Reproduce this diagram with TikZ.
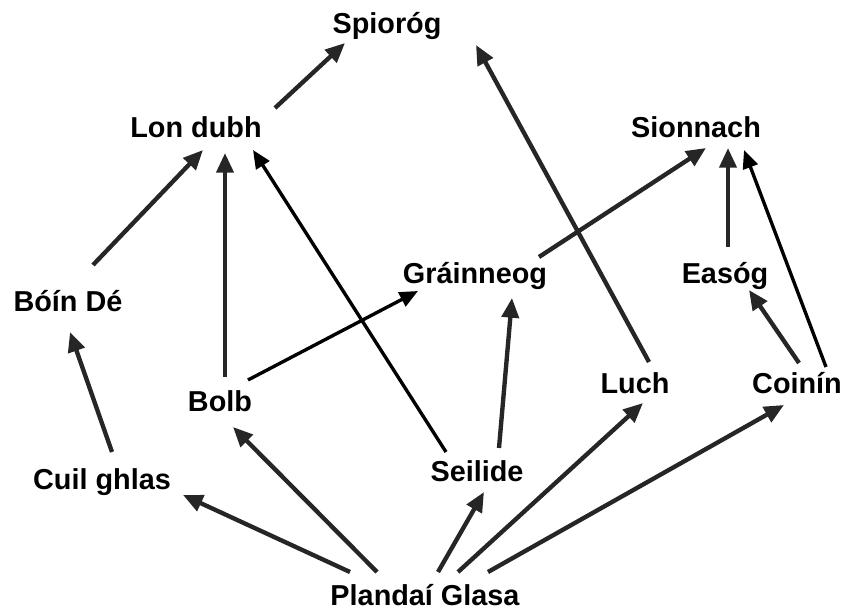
\documentclass[tikz,border=0pt]{standalone}
\usepackage{fontspec}
\setmainfont{Liberation Sans}
\usetikzlibrary{arrows.meta}
\begin{document}
\begin{tikzpicture}[
  lbl/.style={font=\bfseries\fontsize{20.5}{24}\selectfont,anchor=base,inner sep=0pt},
  feed/.style={line width=3.1pt,draw=black!85,-{Triangle[length=14pt,width=12pt]}},
  feedk/.style={line width=2.4pt,draw=black,-{Triangle[length=13pt,width=11pt]}}]
  \useasboundingbox (0,0) rectangle (21.05,15.25);
  \node[lbl] (spi) at (9.675,14.4) {Spioróg};
  \node[lbl] (lon) at (4.9,11.8) {Lon dubh};
  \node[lbl] (sio) at (17.4,11.8) {Sionnach};
  \node[lbl] (gra) at (11.875,8.15) {Gráinneog};
  \node[lbl] (eas) at (18.125,8.15) {Easóg};
  \node[lbl] (boin) at (1.7,7.45) {Bóín Dé};
  \node[lbl] (bolb) at (5.5,4.95) {Bolb};
  \node[lbl] (luch) at (15.875,5.4) {Luch};
  \node[lbl] (coi) at (19.925,5.4) {Coinín};
  \node[lbl] (sei) at (11.925,3.2) {Seilide};
  \node[lbl] (cuil) at (2.55,3.0) {Cuil ghlas};
  \node[lbl] (pla) at (10.625,0.1) {Plandaí Glasa};
  % who eats whom
  \draw[feed] ([shift={(1.975,0.75)}]lon.base) -- ([shift={(-1.05,-0.225)}]spi.base);
  \draw[feed] ([shift={(0.625,1.175)}]boin.base) -- ([shift={(0.175,-0.3)}]lon.base);
  \draw[feed] ([shift={(0.125,0.875)}]bolb.base) -- ([shift={(0.725,-0.375)}]lon.base);
  \draw[feedk] ([shift={(-0.775,0.75)}]sei.base) -- ([shift={(1.425,-0.3)}]lon.base);
  \draw[feedk] ([shift={(0.7,0.8)}]bolb.base) -- ([shift={(-1.425,-0.175)}]gra.base);
  \draw[feed] ([shift={(1.6,0.675)}]gra.base) -- ([shift={(0.25,-0.25)}]sio.base);
  \draw[feed] ([shift={(0.35,0.8)}]luch.base) -- ([shift={(2.225,-0.275)}]spi.base);
  \draw[feed] ([shift={(0.075,0.925)}]eas.base) -- ([shift={(0.8,-0.25)}]sio.base);
  \draw[feedk] ([shift={(0.725,0.675)}]coi.base) -- ([shift={(1.2,-0.3)}]sio.base);
  \draw[feed] ([shift={(0.05,0.775)}]coi.base) -- ([shift={(0.6,-0.15)}]eas.base);
  \draw[feed] ([shift={(0.55,0.85)}]sei.base) -- ([shift={(0.925,-0.35)}]gra.base);
  \draw[feed] ([shift={(0.25,0.95)}]cuil.base) -- ([shift={(0.05,-0.5)}]boin.base);
  % plants at the bottom
  \draw[feed] ([shift={(-1.875,0.85)}]pla.base) -- ([shift={(2.025,-0.125)}]cuil.base);
  \draw[feed] ([shift={(-1.2,0.85)}]pla.base) -- ([shift={(0.325,-0.375)}]bolb.base);
  \draw[feed] ([shift={(0.325,0.85)}]pla.base) -- ([shift={(0.175,-0.25)}]sei.base);
  \draw[feed] ([shift={(0.825,0.85)}]pla.base) -- ([shift={(0.2,-0.225)}]luch.base);
  \draw[feed] ([shift={(1.575,0.85)}]pla.base) -- ([shift={(-0.325,-0.275)}]coi.base);
\end{tikzpicture}
\end{document}
